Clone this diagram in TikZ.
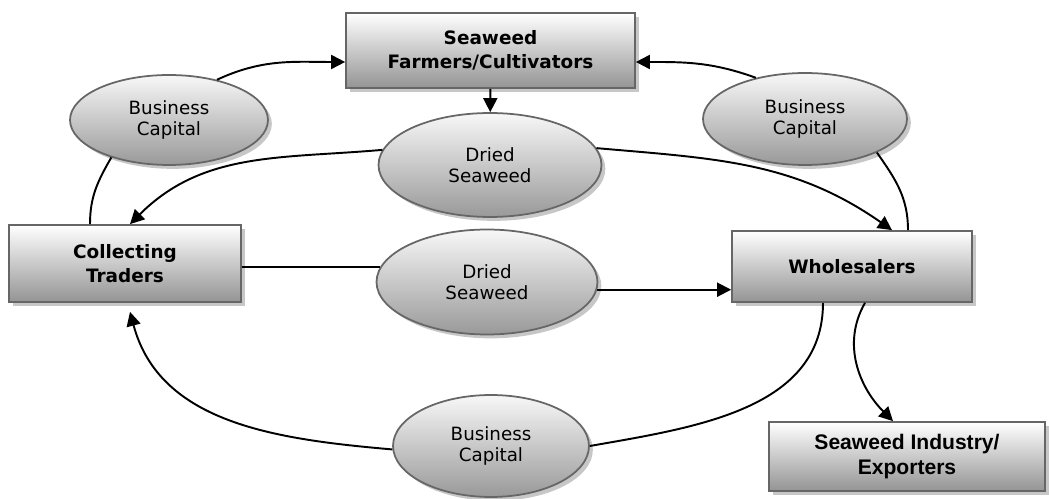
\documentclass[tikz,border=0pt]{standalone}
\usepackage{fontspec}
\setmainfont{DejaVu Sans}
\newfontfamily\arialfont{Liberation Sans}
\usetikzlibrary{shapes,arrows.meta,calc,shadows}

\begin{document}
\begin{tikzpicture}[x=0.02cm,y=-0.02cm,
	box/.style={rectangle,draw=black!60,line width=1pt,top color=white,bottom color=black!42,drop shadow={shadow xshift=2.2pt,shadow yshift=-2.2pt,fill=black!22,opacity=1},inner sep=0pt,align=center,font=\fontsize{10.5}{13.5}\selectfont\bfseries},
	oval/.style={ellipse,draw=black!60,line width=1pt,top color=black!3,bottom color=black!40,drop shadow={shadow xshift=2.2pt,shadow yshift=-2.2pt,fill=black!22,opacity=1},inner sep=0pt,align=center,font=\fontsize{10.4}{12}\selectfont},
	flow/.style={line width=1.1pt,-{Triangle[length=8pt,width=8pt]}},
	link/.style={line width=1.1pt}]
	\useasboundingbox (0,0) rectangle (1049,499);

	\node[box,minimum width=5.78cm,minimum height=1.5cm] at (490.5,50.5) (fc) {Seaweed\\Farmers/Cultivators};
	\node[box,minimum width=4.64cm,minimum height=1.54cm] at (125,263.5) (ct) {Collecting\\Traders};
	\node[box,minimum width=4.8cm,minimum height=1.42cm] at (852,266.5) (wh) {Wholesalers};
	\node[box,minimum width=5.52cm,minimum height=1.38cm,font=\arialfont\fontsize{12}{14}\selectfont\bfseries] at (907,456.5) (si) {Seaweed Industry/\\Exporters};

	\node[oval,minimum width=4.46cm,minimum height=2.08cm] at (490,165) (dst) {Dried\\Seaweed};
	\node[oval,minimum width=4.42cm,minimum height=2.1cm] at (487,282) (dsm) {Dried\\Seaweed};
	\node[oval,minimum width=3.96cm,minimum height=1.8cm] at (169,120) (bcl) {Business\\Capital};
	\node[oval,minimum width=4.08cm,minimum height=1.84cm] at (805,119) (bcr) {Business\\Capital};
	\node[oval,minimum width=3.92cm,minimum height=2.04cm] at (491,446) (bcb) {Business\\Capital};

	\draw[flow] (fc) -- (dst);
	\draw[link] ($(ct.north)+(-35,0)$) to[out=90,in=240] (bcl.213);
	\draw[flow] (bcl.40) to[out=25,in=180] ($(fc.west)+(0,11.5)$);
	\draw[flow] (bcr.140) to[out=160,in=0] ($(fc.east)+(0,11.5)$);
	\draw[link] (bcr.335) to[out=-55,in=90] ($(wh.north)+(56,0)$);
	\draw[flow] (dst.172) to[out=185,in=45] ($(ct.north)+(5,0)$);
	\draw[flow] (dst.9) to[out=-5,in=145] ($(wh.north)+(40,0)$);

	\draw[link] (ct.east |- dsm.172) -- (dsm.172);
	\draw[flow] (dsm.-4) -- (dsm.-4 -| wh.west);

	\draw[link] ($(wh.south)+(-29,0)$) to[out=-90,in=10] (bcb.0);
	\draw[flow] (bcb.182) to[out=175,in=-75] ($(ct.south)+(5,9)$);
	\draw[flow] ($(wh.south)+(13,0)$) to[out=240,in=135] ($(si.north)+(-14,0)$);
\end{tikzpicture}
\end{document}
